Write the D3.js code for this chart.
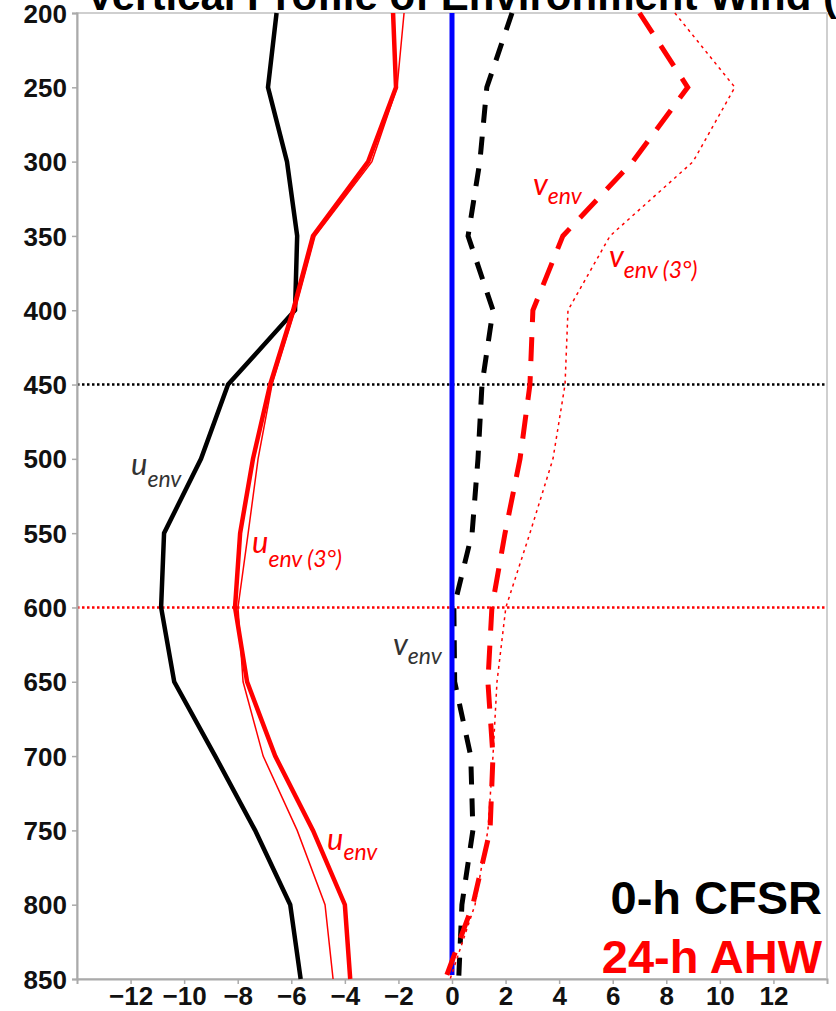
<!DOCTYPE html>
<html>
<head>
<meta charset="utf-8">
<script src="https://cdn.jsdelivr.net/npm/d3@7/dist/d3.min.js"></script>
<style>
  html, body { margin: 0; padding: 0; background: #fff; }
  svg { display: block; }
</style>
</head>
<body>
<svg id="chart" width="836" height="1011"></svg>
<script>
// ---- data ----
const levels = [200, 250, 300, 350, 400, 450, 500, 550, 600, 650, 700, 750, 800, 850];
const uCFSR  = [-6.55, -6.87, -6.16, -5.78, -5.86, -8.36, -9.37, -10.75, -10.86, -10.37, -8.84, -7.35, -6.04, -5.65];
const vCFSR  = [2.24, 1.3, 1.04, 0.6, 1.53, 1.12, 0.97, 0.75, 0.07, 0.1, 0.7, 0.78, 0.37, 0.25];
const uAHW   = [-2.2, -2.09, -3.13, -5.19, -5.93, -6.79, -7.43, -7.91, -8.1, -7.65, -6.6, -5.19, -4.0, -3.8];
const uAHW3  = [-1.79, -2.05, -2.99, -5.11, -5.86, -6.72, -7.24, -7.61, -7.99, -7.8, -7.05, -5.78, -4.74, -4.44];
const vAHW   = [7.0, 8.8, 6.75, 4.14, 3.02, 2.91, 2.54, 1.98, 1.49, 1.34, 1.53, 1.42, 0.78, -0.25];
const vAHW3  = [8.32, 10.56, 9.0, 5.9, 4.33, 4.22, 3.77, 2.91, 2.01, 1.68, 1.53, 1.34, 0.86, -0.07];
const xTicks = [-12, -10, -8, -6, -4, -2, 0, 2, 4, 6, 8, 10, 12];
const yTicks = [200, 250, 300, 350, 400, 450, 500, 550, 600, 650, 700, 750, 800, 850];
const refLevels = [450, 600];
const titleText = "Vertical Profile of Environment Wind (m/s)";
const legendLabels = ["0-h CFSR", "24-h AHW"];

// ---- layout ----
const svg = d3.select("#chart");
const L = 77, R = 827, T = 13, B = 979;
const x = d3.scaleLinear().domain([-14, 14]).range([L, R]);
const y = d3.scaleLinear().domain([200, 850]).range([T, B]);
const bold = "'Liberation Sans', Arial, sans-serif";
const ital = "Lato, 'Open Sans', sans-serif";

// title (cut by top edge, as in the original figure)
svg.append("text").attr("x", 86).attr("y", 10)
  .attr("font-family", bold).attr("font-weight", "bold").attr("font-size", 42)
  .attr("fill", "#000").text(titleText);

// plot frame
svg.append("rect").attr("x", L).attr("y", T).attr("width", R - L).attr("height", B - T)
  .attr("fill", "#fff").attr("stroke", "#cfcfcf").attr("stroke-width", 2);

// reference dotted lines
svg.append("line").attr("x1", L).attr("x2", R).attr("y1", y(refLevels[0])).attr("y2", y(refLevels[0]))
  .attr("stroke", "#000").attr("stroke-width", 2.5).attr("stroke-dasharray", "2.5,2.5");
svg.append("line").attr("x1", L).attr("x2", R).attr("y1", y(refLevels[1])).attr("y2", y(refLevels[1]))
  .attr("stroke", "#ff0000").attr("stroke-width", 2.5).attr("stroke-dasharray", "2.5,2.5");

// axes
const xAxis = d3.axisBottom(x).tickValues(xTicks).tickSize(5).tickPadding(3);
const gx = svg.append("g").attr("transform", `translate(0,${B})`).call(xAxis);
const yAxis = d3.axisLeft(y).tickValues(yTicks).tickSize(5).tickPadding(5);
const gy = svg.append("g").attr("transform", `translate(${L},0)`).call(yAxis);
[gx, gy].forEach(g => {
  g.select(".domain").attr("stroke", "#aaa").attr("stroke-width", 2);
  g.selectAll(".tick line").attr("stroke", "#aaa").attr("stroke-width", 1.5);
  g.selectAll(".tick text").attr("font-family", bold).attr("font-weight", "bold")
    .attr("font-size", 26).attr("fill", "#111");
});
gx.selectAll(".tick text").attr("dy", "0.68em");
gy.selectAll(".tick text").attr("dy", "0.35em");

const line = d3.line().x(d => x(d[0])).y(d => y(d[1]));
const pts = arr => arr.map((v, i) => [v, levels[i]]);

function draw(arr, color, width, dash, cap) {
  svg.append("path").datum(pts(arr)).attr("d", line)
    .attr("fill", "none").attr("stroke", color).attr("stroke-width", width)
    .attr("stroke-linejoin", "miter").attr("stroke-linecap", cap || "butt")
    .attr("stroke-dasharray", dash || null);
}

draw(uCFSR, "#000", 4.5);
draw(vCFSR, "#000", 5, "18,14");
// zero line
svg.append("line").attr("x1", x(0)).attr("x2", x(0)).attr("y1", T).attr("y2", B - 4)
  .attr("stroke", "#0000ff").attr("stroke-width", 5);
draw(uAHW3, "#ff0000", 1.5);
draw(uAHW, "#ff0000", 4.5);
draw(vAHW3, "#ff0000", 1.5, "3,4");
draw(vAHW, "#ff0000", 5, "24,15");

// annotations
const notes = [
  {t: "u", s: "env", x: 131, y: 475, dy: 12, c: "#333"},
  {t: "u", s: "env (3°)", x: 252, y: 553, dy: 14, c: "#ff0000"},
  {t: "v", s: "env", x: 393, y: 655, dy: 9, c: "#333"},
  {t: "u", s: "env", x: 327, y: 850, dy: 10, c: "#ff0000"},
  {t: "v", s: "env", x: 533, y: 195, dy: 9, c: "#ff0000"},
  {t: "v", s: "env (3°)", x: 609, y: 267, dy: 11, c: "#ff0000"}
];
notes.forEach(n => {
  const t = svg.append("text").attr("x", n.x).attr("y", n.y)
    .attr("font-family", ital).attr("font-style", "italic").attr("fill", n.c);
  t.append("tspan").attr("font-size", 31).text(n.t);
  t.append("tspan").attr("font-size", 23).attr("dy", n.dy).text(n.s);
});

// legend
svg.append("text").attr("x", 822).attr("y", 914).attr("text-anchor", "end")
  .attr("font-family", bold).attr("font-weight", "bold").attr("font-size", 47)
  .attr("fill", "#000").text(legendLabels[0]);
svg.append("text").attr("x", 822).attr("y", 973).attr("text-anchor", "end")
  .attr("font-family", bold).attr("font-weight", "bold").attr("font-size", 47)
  .attr("fill", "#ff0000").text(legendLabels[1]);
</script>
</body>
</html>
